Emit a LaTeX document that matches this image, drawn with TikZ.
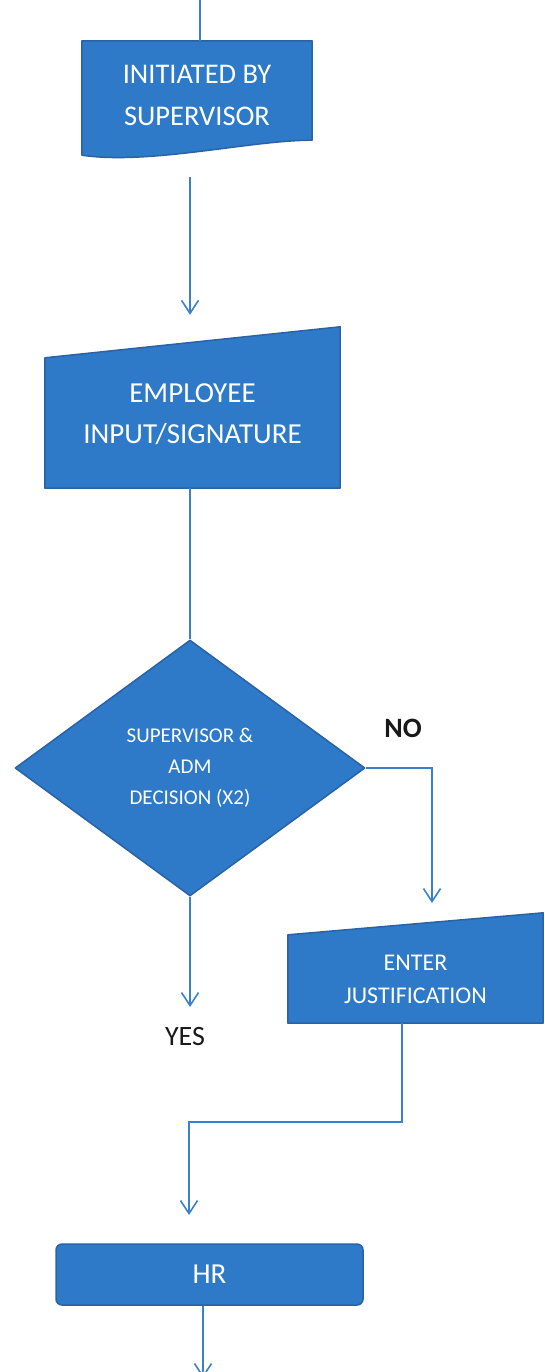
\documentclass[tikz,border=0pt]{standalone}
\usepackage{fontspec}
\setmainfont{Carlito}
\usetikzlibrary{arrows.meta,positioning,shapes.geometric,backgrounds}
\definecolor{boxblue}{HTML}{2E7AC8}
\definecolor{edgeblue}{HTML}{2A62A6}
\definecolor{lineblue}{HTML}{3B80CC}

\begin{document}
\begin{tikzpicture}[x=1pt,y=-1pt,>={Straight Barb[length=13pt,width=17pt]},
  boxtext/.style={inner sep=0pt,align=center,text=white},
  shapefill/.style={fill=boxblue,draw=edgeblue,line width=1.5pt,line join=round},
  flowline/.style={draw=lineblue,line width=1.6pt},
  flowarrow/.style={flowline,->},
  answer/.style={inner sep=1pt,text=black!90,font=\fontsize{28}{32}\selectfont}]
  \useasboundingbox (0,0) rectangle (545,1372);

  % process boxes (outlines drawn on the background layer)
  \node[boxtext,minimum width=230pt,minimum height=108pt,font=\fontsize{28.5}{42}\selectfont] (init) at (197,95) {INITIATED BY\\SUPERVISOR};
  \node[boxtext,minimum width=295pt,minimum height=148pt,font=\fontsize{29}{41}\selectfont] (emp) at (192.5,414) {EMPLOYEE\\INPUT/SIGNATURE};
  \node[diamond,shapefill,boxtext,minimum width=350pt,minimum height=256pt,font=\fontsize{21}{31}\selectfont] (dec) at (190,768) {SUPERVISOR \&\\ADM\\DECISION (X2)};
  \node[boxtext,minimum width=255pt,minimum height=88pt,font=\fontsize{24}{33}\selectfont] (just) at (415.5,979) {ENTER\\JUSTIFICATION};
  \node[boxtext,shapefill,rounded corners=6pt,minimum width=307pt,minimum height=61pt,font=\fontsize{29}{32}\selectfont] (hr) at (209.5,1274.5) {HR};

  \begin{scope}[on background layer]
    \path[shapefill] (init.north west) -- (init.north east) -- ([yshift=9pt]init.south east)
      .. controls +(-62,0) and +(68,10) .. ([yshift=-6pt]init.south west) -- cycle;
    \path[shapefill] ([yshift=-18pt]emp.north west) -- ([yshift=13pt]emp.north east) -- (emp.south east) -- (emp.south west) -- cycle;
    \path[shapefill] (just.north west) -- ([yshift=22pt]just.north east) -- (just.south east) -- (just.south west) -- cycle;
  \end{scope}

  % answers
  \node[answer,font=\fontsize{28}{32}\selectfont\bfseries] (no) at (403,728) {NO};
  \node[answer] (yes) at (185,1036) {YES};

  % connectors
  \coordinate (entry) at (200,0);
  \coordinate (notip) at (432,903);
  \coordinate (yestip) at (190,1007);
  \coordinate (hrtip) at (189,1215);
  \coordinate (exit) at (203,1378);
  \draw[flowline] (entry) -- (entry |- init.north);
  \draw[flowarrow,shorten <=28pt,shorten >=25pt] (init.south -| dec.north) -- (emp.north -| dec.north);
  \draw[flowline] (emp.south -| dec.north) -- (dec.north);
  \draw[flowarrow] (dec.east) -| (notip);
  \draw[flowarrow] (dec.south) -- (yestip);
  \draw[flowarrow] ([xshift=-13.5pt]just.south) -- ++(0,99) -| (hrtip);
  \draw[flowarrow] (hr.south -| exit) -- (exit);
\end{tikzpicture}
\end{document}
